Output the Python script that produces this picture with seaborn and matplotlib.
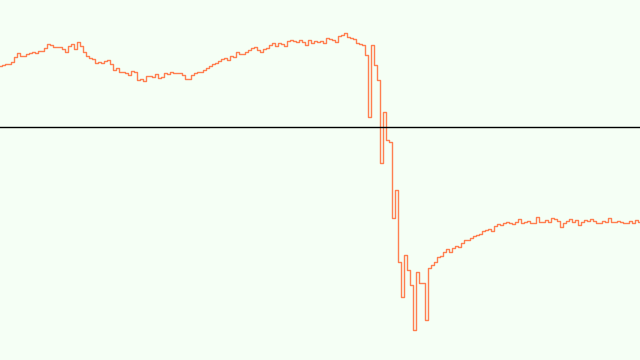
import numpy as np
import pandas as pd
import matplotlib
matplotlib.use("Agg")
import matplotlib.pyplot as plt
import seaborn as sns

signal = [
    6.1, 6.2, 6.3, 6.3, 6.5, 7.0, 7.4, 7.1, 7.1, 7.3,
    7.4, 7.5, 7.4, 7.6, 7.6, 7.9, 8.3, 8.2, 8.0, 8.0,
    8.0, 7.8, 7.5, 8.1, 8.3, 7.8, 8.5, 8.1, 7.5, 7.1,
    6.9, 6.8, 6.4, 6.5, 6.4, 6.6, 6.7, 6.3, 5.7, 5.9,
    5.5, 5.5, 5.4, 5.2, 5.6, 5.5, 4.7, 4.8, 4.6, 5.1,
    5.1, 5.0, 5.3, 4.9, 5.0, 5.4, 5.3, 5.5, 5.4, 5.4,
    5.4, 5.2, 4.8, 4.8, 5.2, 5.4, 5.5, 5.5, 5.7, 5.9,
    6.1, 6.3, 6.4, 6.6, 6.8, 6.9, 6.7, 7.1, 7.0, 7.5,
    7.3, 7.3, 7.5, 7.7, 7.9, 8.0, 7.7, 7.5, 7.8, 7.9,
    8.2, 8.4, 8.1, 8.4, 8.3, 8.1, 8.6, 8.7, 8.6, 8.5,
    8.7, 8.5, 8.2, 8.7, 8.4, 8.6, 8.5, 8.6, 8.4, 8.9,
    8.8, 8.7, 8.5, 9.1, 9.2, 9.4, 9.0, 8.9, 8.8, 8.4,
    8.3, 8.2, 7.2, 1.0, 8.2, 6.2, 4.7, -3.6, 1.5, -1.3,
    -1.5, -9.1, -6.3, -13.5, -17.0, -12.8, -14.3, -15.8, -20.3, -14.5,
    -15.6, -15.6, -19.3, -14.1, -13.8, -13.5, -13.0, -12.9, -12.5, -12.2,
    -12.5, -12.1, -11.9, -12.0, -11.6, -11.3, -11.3, -11.1, -10.9, -10.8,
    -10.7, -10.4, -10.3, -10.2, -10.4, -9.9, -9.7, -9.8, -9.6, -9.5,
    -9.6, -9.7, -9.5, -9.2, -9.6, -9.5, -9.4, -9.6, -9.6, -9.0,
    -9.5, -9.5, -9.3, -9.5, -9.1, -9.2, -9.4, -10.0, -9.6, -9.4,
    -9.2, -9.5, -9.3, -9.8, -9.5, -9.3, -9.4, -9.2, -9.4, -9.6,
    -9.6, -9.4, -9.5, -9.1, -9.5, -9.5, -9.4, -9.5, -9.6, -9.6,
    -9.4, -9.6, -9.3, -9.5,
]
t = list(range(len(signal)))

df = pd.DataFrame({"t": t, "signal": signal})

bg = "#f5fff5"
fig = plt.figure(figsize=(6.4, 3.6), dpi=100, facecolor=bg)
ax = fig.add_axes([0, 0, 1, 1])
ax.set_facecolor(bg)

sns.lineplot(data=df, x="t", y="signal", ax=ax, color="#ff7f50",
             linewidth=1.0, drawstyle="steps-mid", legend=False)
ax.axhline(0, color="black", linewidth=1.0)

ax.set_xlim(0, len(signal) - 1)
ax.set_ylim(-23.3, 12.7)
for s in ax.spines.values():
    s.set_visible(False)
ax.set_xticks([])
ax.set_yticks([])
ax.set_xlabel("")
ax.set_ylabel("")

fig.savefig("out.png", dpi=100, facecolor=bg)
